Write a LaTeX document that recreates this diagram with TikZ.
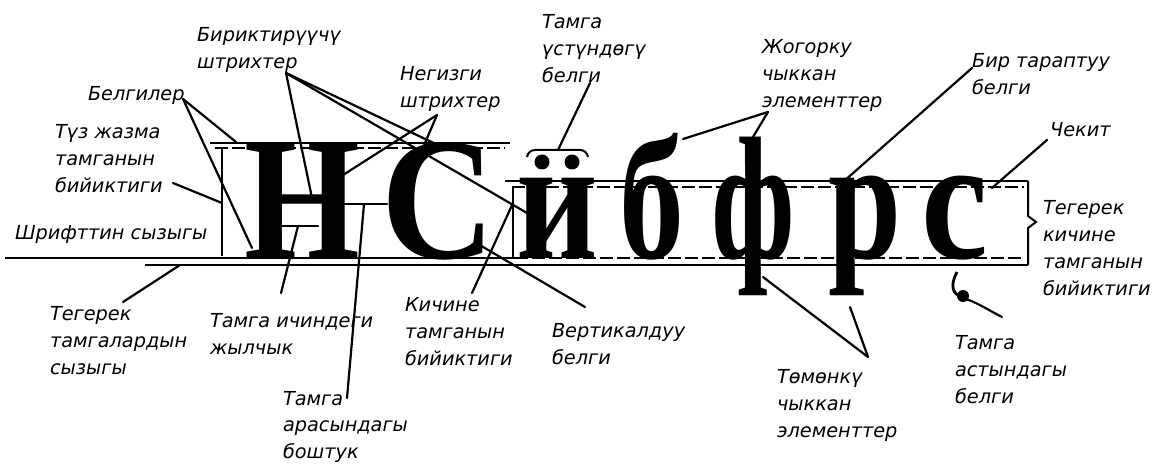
\documentclass[tikz,border=0pt]{standalone}
\usepackage{fontspec}
\newfontfamily\labfont{DejaVu Sans}
\newfontfamily\glfont{Liberation Serif}
\begin{document}
\begin{tikzpicture}[x=1pt,y=-1pt,
  lab/.style={font=\labfont\itshape\fontsize{19.3}{27}\selectfont, anchor=north west, inner sep=0pt, outer sep=0pt, align=left},
  ptr/.style={line width=2.2pt, line cap=round},
  guide/.style={line width=2.6pt},
  guidedash/.style={line width=1.6pt, dash pattern=on 13pt off 4pt},
  gl/.style={anchor=base west, inner sep=0pt, outer sep=0pt, font=\glfont\bfseries\fontsize{175}{175}\selectfont}]
\useasboundingbox (0,0) rectangle (1153,465);

% guide lines
\draw[guide] (210,143) -- (510,143);
\draw[guidedash] (215,148) -- (505,148);
\draw[guide] (505,181) -- (1028,181);
\draw[guidedash] (512,187) -- (1024,187);
\draw[guide] (5,258) -- (515,258);
\draw[guidedash] (515,258) -- (1024,258);
\draw[guide] (145,265) -- (1028,265);
\draw[line width=2pt] (1028,181) -- (1028,216) -- (1036,222) -- (1028,228) -- (1028,265);
\draw[line width=1.8pt] (222,148) -- (222,256);
\draw[line width=1.8pt] (513,188) -- (513,257);

% glyphs
\node[gl] (gN) at (244,258) {\scalebox{0.85}[1]{Н}};
\node[gl] (gS) at (381,258) {\scalebox{0.9}[1]{С}};
\node[gl] (gI) at (516,258) {\scalebox{0.81}[1]{и}};
\node[gl] (gB) at (619,258) {\scalebox{0.74}[1]{б}};
\node[gl] (gF) at (711,258) {\scalebox{0.69}[1]{ф}};
\node[gl] (gR) at (828,258) {\scalebox{0.75}[1]{р}};
\node[gl] (gC) at (921,258) {\scalebox{0.86}[1]{с}};

% diacritic dots and bracket
\fill (542,162) circle (7.5);
\fill (572,162) circle (7.5);
\draw[line width=2pt] (527,157) to[out=80,in=180] (535,150) -- (580,150) to[out=0,in=100] (588,157);
% mark under c
\draw[line width=2.8pt] (957,272) .. controls (950,285) and (952,294) .. (962,297);
\fill (963,296) circle (6);

% labels
\node[lab] (l1) at (197,27) {Бириктирүүчү\\штрихтер};
\node[lab] (l2) at (88,86) {Белгилер};
\node[lab] (l3) at (55,124) {Түз жазма\\тамганын\\бийиктиги};
\node[lab] (l4) at (15,225) {Шрифттин сызыгы};
\node[lab] (l5) at (50,306) {Тегерек\\тамгалардын\\сызыгы};
\node[lab] (l6) at (210,313) {Тамга ичиндеги\\жылчык};
\node[lab, font=\labfont\itshape\fontsize{19.3}{26.5}\selectfont] (l7) at (283,391) {Тамга\\арасындагы\\боштук};
\node[lab] (l8) at (400,66) {Негизги\\штрихтер};
\node[lab] (l9) at (542,14) {Тамга\\үстүндөгү\\белги};
\node[lab] (l10) at (762,39) {Жогорку\\чыккан\\элементтер};
\node[lab] (l11) at (972,53) {Бир тараптуу\\белги};
\node[lab] (l12) at (1050,122) {Чекит};
\node[lab] (l13) at (1043,200) {Тегерек\\кичине\\тамганын\\бийиктиги};
\node[lab] (l14) at (405,297) {Кичине\\тамганын\\бийиктиги};
\node[lab] (l15) at (552,323) {Вертикалдуу\\белги};
\node[lab] (l16) at (777,369) {Төмөнкү\\чыккан\\элементтер};
\node[lab] (l17) at (955,335) {Тамга\\астындагы\\белги};

% pointer coordinates
\coordinate (p2) at (183,99);
\coordinate (p3) at (173,183);
\coordinate (p5) at (123,302);
\coordinate (p1) at (286,73);
\coordinate (p8) at (437,115);
\coordinate (p6) at (281,293);
\coordinate (p7) at (347,398);
\coordinate (p9) at (590,83);
\coordinate (p14) at (472,293);
\coordinate (p15) at (585,307);
\coordinate (p10) at (768,112);
\coordinate (p11) at (972,68);
\coordinate (p12) at (1047,140);
\coordinate (p16) at (868,357);
\coordinate (p17) at (1002,317);

\coordinate (t2a) at (236,142);
\coordinate (t2b) at (252,248);
\coordinate (t3) at (222,203);
\coordinate (t5) at (180,265);
\coordinate (t1a) at (312,198);
\coordinate (t1b) at (440,146);
\coordinate (t1c) at (527,213);
\coordinate (t8a) at (343,175);
\coordinate (t8b) at (407,185);
\coordinate (t6) at (298,226);
\coordinate (t6l) at (278,226);
\coordinate (t6r) at (318,226);
\coordinate (t7) at (364,204);
\coordinate (t7l) at (343,204);
\coordinate (t7r) at (387,204);
\coordinate (t9) at (558,150);
\coordinate (t14) at (513,203);
\coordinate (t15) at (478,244);
\coordinate (t10a) at (683,139);
\coordinate (t10b) at (750,142);
\coordinate (t11) at (843,182);
\coordinate (t12) at (992,188);
\coordinate (t16a) at (850,307);
\coordinate (t16b) at (763,277);
\coordinate (t17) at (966,299);

\draw[ptr] (p2) -- (t2a);
\draw[ptr] (p2) -- (t2b);
\draw[ptr] (p3) -- (t3);
\draw[ptr] (p5) -- (t5);
\draw[ptr] (p1) -- (t1a);
\draw[ptr] (p1) -- (t1b);
\draw[ptr] (p1) -- (t1c);
\draw[ptr] (p8) -- (t8a);
\draw[ptr] (p8) -- (t8b);
\draw[ptr] (p6) -- (t6);
\draw[ptr] (t6l) -- (t6r);
\draw[ptr] (p7) -- (t7);
\draw[ptr] (t7l) -- (t7r);
\draw[ptr] (p9) -- (t9);
\draw[ptr] (p14) -- (t14);
\draw[ptr] (p15) -- (t15);
\draw[ptr] (p10) -- (t10a);
\draw[ptr] (p10) -- (t10b);
\draw[ptr] (p11) -- (t11);
\draw[ptr] (p12) -- (t12);
\draw[ptr] (p16) -- (t16a);
\draw[ptr] (p16) -- (t16b);
\draw[ptr] (p17) .. controls (990,311) and (978,303) .. (t17);
\end{tikzpicture}
\end{document}
